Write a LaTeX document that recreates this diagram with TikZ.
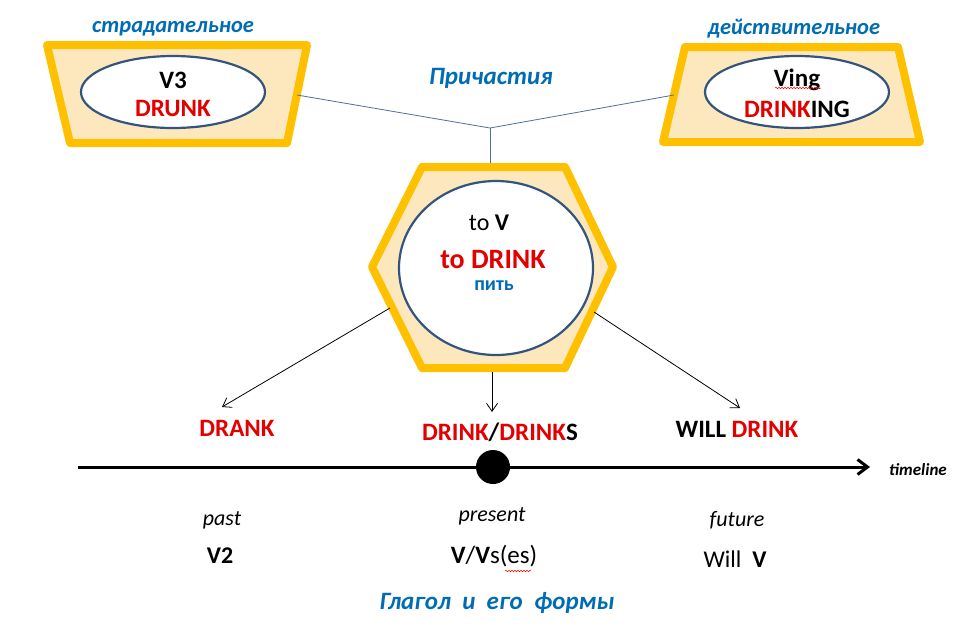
\documentclass[tikz,border=0pt]{standalone}
\usepackage{fontspec}
\setmainfont{Carlito}
\usetikzlibrary{shapes.geometric,arrows.meta,decorations.pathmorphing}
\definecolor{myorange}{RGB}{255,192,0}
\definecolor{mypeach}{RGB}{253,232,190}
\definecolor{myred}{RGB}{226,0,0}
\definecolor{myblue}{RGB}{0,108,180}
\definecolor{ovalblue}{RGB}{52,84,128}
\definecolor{linkblue}{RGB}{80,110,150}
\begin{document}
\begin{tikzpicture}[x=1pt,y=-1pt,
  shapebox/.style={draw=myorange,line width=8pt,fill=mypeach,line join=round},
  oval/.style={ellipse,draw=ovalblue,line width=2.2pt,fill=white,minimum width=184pt,minimum height=72pt,inner sep=0pt},
  big/.style={font=\fontsize{25}{28}\selectfont\bfseries,inner sep=0pt},
  title/.style={font=\fontsize{22.5}{26}\selectfont\bfseries\itshape,text=myblue,inner sep=0pt},
  tense/.style={font=\fontsize{22}{25}\selectfont\itshape,inner sep=0pt},
  form/.style={font=\fontsize{24}{27}\selectfont,inner sep=0pt},
  link/.style={draw=linkblue,line width=0.8pt},
  arr/.style={draw=black,line width=0.8pt,-{Straight Barb[length=8pt,width=11pt]}},
  wavy/.style={draw=red,line width=0.5pt,decorate,decoration={snake,segment length=3pt,amplitude=0.8pt}}
]
\useasboundingbox (0,0) rectangle (980,632);

% left trapezoid
\path[shapebox] (47,45) -- (307,45) -- (287,143) -- (70,143) -- cycle;
\node[oval] (e1) at (173,92) {};
\node[big] (v3) at (173,80) {V3};
\node[big,text=myred] (drunk) at (173,108) {DRUNK};
\node[title] (strad) at (173,29) {страдательное};

% right trapezoid
\path[shapebox] (685,47) -- (898,47) -- (920,142) -- (663,142) -- cycle;
\node[oval] (e2) at (797,92) {};
\node[big] (ving) at (797,80) {Ving};
\node[big] (drinking) at (797,109) {\textcolor{myred}{DRINK}ING};
\node[title] (deistv) at (794,29) {действительное};
\draw[wavy] (775,88) -- (821,88);

% participle label and links
\node[title,font=\fontsize{25}{28}\selectfont\bfseries\itshape] (prich) at (491,78) {Причастия};
\coordinate (lA) at (297,95);
\coordinate (rA) at (674,95);
\coordinate (jn) at (490,128);
\coordinate (hTop) at (490,163);
\draw[link] (lA) -- (jn) -- (rA);
\draw[link] (jn) -- (hTop);

% hexagon
\path[shapebox] (422,167) -- (565,167) -- (613,267) -- (565,368) -- (422,368) -- (372,267) -- cycle;
\node[oval,minimum width=194pt,minimum height=174pt] (circ) at (496,268) {};
\node[form] (tov) at (489,223) {to \textbf{V}};
\node[font=\fontsize{28}{31}\selectfont\bfseries,text=myred,inner sep=0pt] (todrink) at (493,260) {to DRINK};
\node[font=\fontsize{20}{22}\selectfont\bfseries,text=myblue,inner sep=0pt] (pit) at (494,286) {пить};

% arrows
\coordinate (hL) at (390,308);
\coordinate (hB) at (492,372);
\coordinate (hR) at (594,312);
\coordinate (aL) at (222,407);
\coordinate (aB) at (492,412);
\coordinate (aR) at (740,408);
\draw[arr] (hL) -- (aL);
\draw[arr] (hB) -- (aB);
\draw[arr] (hR) -- (aR);

% forms
\node[big,text=myred] (drank) at (237,428) {DRANK};
\node[big] (drinks) at (500,432) {\textcolor{myred}{DRINK}/\textcolor{myred}{DRINK}S};
\node[big] (willdrink) at (737,429) {WILL \textcolor{myred}{DRINK}};

% timeline
\coordinate (t0) at (78,467);
\coordinate (t1) at (870,467);
\draw[line width=3pt,-{Straight Barb[length=10pt,width=15pt,line width=3pt]}] (t0) -- (t1);
\node[circle,fill=black,minimum size=34pt,inner sep=0pt] (now) at (493,467) {};
\node[font=\fontsize{17}{19}\selectfont\bfseries\itshape,inner sep=0pt] (tl) at (918,470) {timeline};

% tenses
\node[tense] (past) at (222,520) {past};
\node[tense] (present) at (492,516) {present};
\node[tense] (future) at (737,520) {future};
\node[form,font=\fontsize{24}{27}\selectfont\bfseries] (v2) at (220,556) {V2};
\node[form,font=\fontsize{25}{28}\selectfont] (vvs) at (494,556) {\textbf{V}/\textbf{V}s(es)};
\draw[wavy] (505,571) -- (531,571);
\node[form] (willv) at (735,559) {Will~~\textbf{V}};

\node[title,font=\fontsize{25}{28}\selectfont\bfseries\itshape] (glagol) at (497,603) {Глагол~~и~~его~~формы};
\end{tikzpicture}
\end{document}
